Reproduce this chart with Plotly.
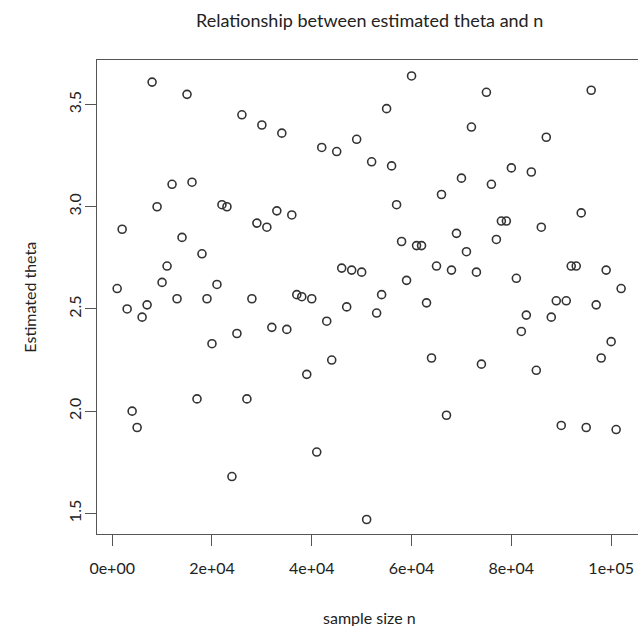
import plotly.graph_objects as go

# sample sizes (n) and estimated theta values
sample_size = [k * 1000 for k in range(1, 103)]
theta = [
    2.60, 2.89, 2.50, 2.00, 1.92, 2.46, 2.52, 3.61, 3.00, 2.63,
    2.71, 3.11, 2.55, 2.85, 3.55, 3.12, 2.06, 2.77, 2.55, 2.33,
    2.62, 3.01, 3.00, 1.68, 2.38, 3.45, 2.06, 2.55, 2.92, 3.40,
    2.90, 2.41, 2.98, 3.36, 2.40, 2.96, 2.57, 2.56, 2.18, 2.55,
    1.80, 3.29, 2.44, 2.25, 3.27, 2.70, 2.51, 2.69, 3.33, 2.68,
    1.47, 3.22, 2.48, 2.57, 3.48, 3.20, 3.01, 2.83, 2.64, 3.64,
    2.81, 2.81, 2.53, 2.26, 2.71, 3.06, 1.98, 2.69, 2.87, 3.14,
    2.78, 3.39, 2.68, 2.23, 3.56, 3.11, 2.84, 2.93, 2.93, 3.19,
    2.65, 2.39, 2.47, 3.17, 2.20, 2.90, 3.34, 2.46, 2.54, 1.93,
    2.54, 2.71, 2.71, 2.97, 1.92, 3.57, 2.52, 2.26, 2.69, 2.34,
    1.91, 2.60,
]

x_tickvals = [0, 20000, 40000, 60000, 80000, 100000]
x_ticktext = ["0e+00", "2e+04", "4e+04", "6e+04", "8e+04", "1e+05"]
y_tickvals = [1.5, 2.0, 2.5, 3.0, 3.5]
y_ticktext = ["1.5", "2.0", "2.5", "3.0", "3.5"]

FONT = "Lato"
LINE = "#555555"
TXT = "#222222"

fig = go.Figure(
    go.Scatter(
        x=sample_size,
        y=theta,
        mode="markers",
        marker=dict(symbol="circle-open", size=8, color="#333333",
                    line=dict(width=1.6, color="#333333")),
        hoverinfo="x+y",
    )
)

fig.update_layout(
    width=638,
    height=626,
    margin=dict(l=97, r=0, t=60, b=92),
    paper_bgcolor="white",
    plot_bgcolor="white",
    showlegend=False,
    font=dict(family=FONT, color=TXT, size=16),
    title=dict(
        text="Relationship between estimated theta and n",
        x=0.504, xref="paper", xanchor="center",
        y=1 - 21 / 626, yref="container", yanchor="middle",
        font=dict(family=FONT, size=18, color=TXT),
    ),
    xaxis=dict(
        range=[-3040, 105380],
        tickvals=x_tickvals,
        ticktext=x_ticktext,
        ticks="outside",
        ticklen=11,
        tickwidth=1.3,
        tickcolor=LINE,
        showline=True,
        linecolor=LINE,
        linewidth=1.4,
        mirror=True,
        showgrid=False,
        zeroline=False,
        ticklabelstandoff=9,
        tickfont=dict(family=FONT, size=16, color=TXT),
    ),
    yaxis=dict(
        range=[1.399, 3.718],
        tickvals=y_tickvals,
        ticktext=y_ticktext,
        tickangle=-90,
        ticks="outside",
        ticklen=11,
        tickwidth=1.3,
        tickcolor=LINE,
        showline=True,
        linecolor=LINE,
        linewidth=1.4,
        mirror=False,
        showgrid=False,
        zeroline=False,
        ticklabelstandoff=-3,
        tickfont=dict(family=FONT, size=16, color=TXT),
    ),
    annotations=[
        dict(text="sample size n", xref="paper", yref="paper",
             x=0.504, y=-(617 - 534) / 474, xanchor="center", yanchor="middle",
             showarrow=False, font=dict(family=FONT, size=16, color=TXT)),
        dict(text="Estimated theta", xref="paper", yref="paper",
             x=-(97.3 - 29) / 540.7, y=0.5, xanchor="center", yanchor="middle",
             textangle=-90, showarrow=False,
             font=dict(family=FONT, size=16, color=TXT)),
    ],
)

fig.write_html("out.html")
